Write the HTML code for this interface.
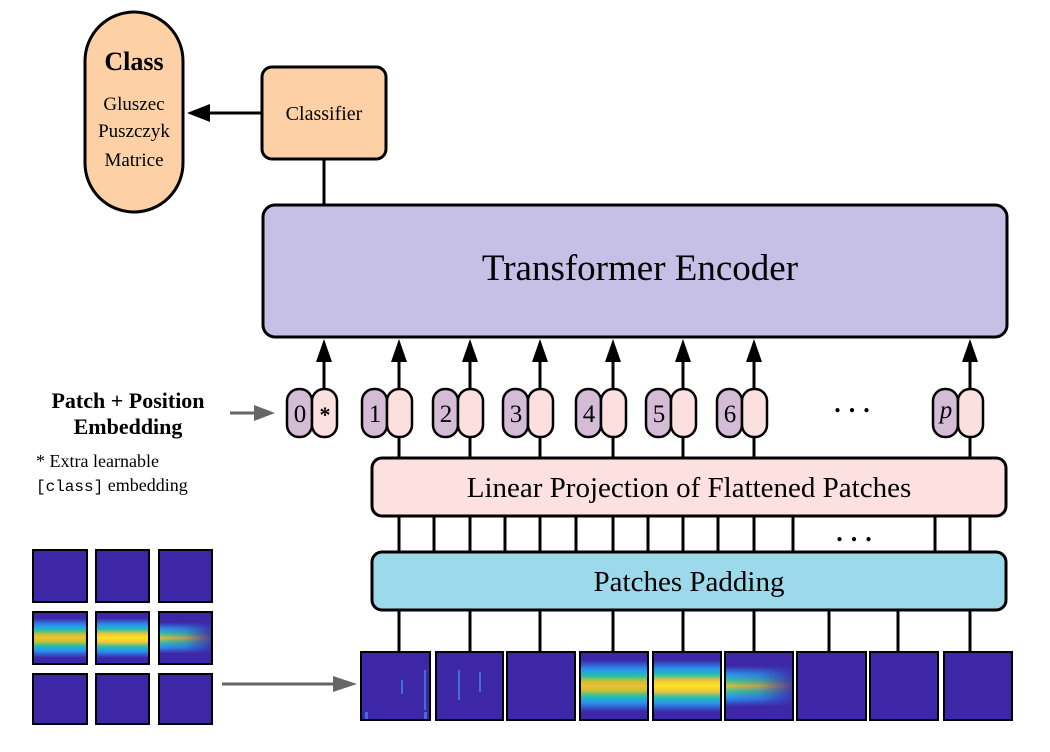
<!DOCTYPE html>
<html><head><meta charset="utf-8"><style>
html,body{margin:0;padding:0;background:#fff;}
svg{display:block;font-family:"Liberation Serif",serif;}
</style></head><body>
<svg width="1050" height="752" viewBox="0 0 1050 752" xmlns="http://www.w3.org/2000/svg">
<defs>
  <linearGradient id="band" x1="0" y1="0" x2="0" y2="1">
    <stop offset="0" stop-color="#3d27a6"/>
    <stop offset="0.12" stop-color="#3d27a6"/>
    <stop offset="0.25" stop-color="#2b8ef0"/>
    <stop offset="0.35" stop-color="#22c0b0"/>
    <stop offset="0.43" stop-color="#c9c12e"/>
    <stop offset="0.5" stop-color="#eec03a"/>
    <stop offset="0.57" stop-color="#c9c12e"/>
    <stop offset="0.65" stop-color="#22c0b0"/>
    <stop offset="0.75" stop-color="#2b8ef0"/>
    <stop offset="0.88" stop-color="#3d27a6"/>
    <stop offset="1" stop-color="#3d27a6"/>
  </linearGradient>
  <linearGradient id="hotb" x1="0" y1="0" x2="0" y2="1">
    <stop offset="0" stop-color="#3d27a6"/>
    <stop offset="0.12" stop-color="#3d27a6"/>
    <stop offset="0.24" stop-color="#2b8ef0"/>
    <stop offset="0.33" stop-color="#22c0b0"/>
    <stop offset="0.42" stop-color="#f2c43a"/>
    <stop offset="0.5" stop-color="#fbe41f"/>
    <stop offset="0.58" stop-color="#f2c43a"/>
    <stop offset="0.67" stop-color="#22c0b0"/>
    <stop offset="0.76" stop-color="#2b8ef0"/>
    <stop offset="0.88" stop-color="#3d27a6"/>
    <stop offset="1" stop-color="#3d27a6"/>
  </linearGradient>
  <linearGradient id="fadeb" x1="0" y1="0" x2="0" y2="1">
    <stop offset="0" stop-color="#3d27a6"/>
    <stop offset="0.2" stop-color="#3d27a6"/>
    <stop offset="0.32" stop-color="#2b8ef0"/>
    <stop offset="0.42" stop-color="#3cc0a0"/>
    <stop offset="0.5" stop-color="#d8bf38"/>
    <stop offset="0.58" stop-color="#3cc0a0"/>
    <stop offset="0.68" stop-color="#2b8ef0"/>
    <stop offset="0.8" stop-color="#3d27a6"/>
    <stop offset="1" stop-color="#3d27a6"/>
  </linearGradient>
  <linearGradient id="fadeh" x1="0" y1="0" x2="1" y2="0">
    <stop offset="0" stop-color="#3d27a6" stop-opacity="0"/>
    <stop offset="0.5" stop-color="#3d27a6" stop-opacity="0.2"/>
    <stop offset="1" stop-color="#3d27a6" stop-opacity="0.85"/>
  </linearGradient>
</defs>

<rect x="85" y="12" width="98" height="200" rx="49" fill="#fdd1a5" stroke="#000" stroke-width="3"/>
<text x="134" y="70" font-size="26" font-weight="bold" text-anchor="middle">Class</text>
<text x="134" y="110" font-size="19" text-anchor="middle">Gluszec</text>
<text x="134" y="137" font-size="19" text-anchor="middle">Puszczyk</text>
<text x="134" y="166" font-size="19" text-anchor="middle">Matrice</text>

<rect x="262" y="67" width="124" height="92" rx="10" fill="#fdd1a5" stroke="#000" stroke-width="3"/>
<text x="324" y="120" font-size="20" text-anchor="middle">Classifier</text>
<line x1="262" y1="113" x2="205" y2="113" stroke="#000" stroke-width="3"/>
<polygon points="187,113 210,104 210,122" fill="#000"/>
<line x1="324" y1="159" x2="324" y2="205" stroke="#000" stroke-width="3"/>

<rect x="263" y="205" width="744" height="132" rx="12" fill="#c6bfe6" stroke="#000" stroke-width="3"/>
<text x="640" y="280" font-size="37" text-anchor="middle">Transformer Encoder</text>

<g stroke="#000" stroke-width="3">
  <line x1="324" y1="390" x2="324" y2="355"/>
  <line x1="399" y1="390" x2="399" y2="355"/>
  <line x1="470" y1="390" x2="470" y2="355"/>
  <line x1="540" y1="390" x2="540" y2="355"/>
  <line x1="613" y1="390" x2="613" y2="355"/>
  <line x1="683" y1="390" x2="683" y2="355"/>
  <line x1="754" y1="390" x2="754" y2="355"/>
  <line x1="970" y1="390" x2="970" y2="355"/>
</g>
<g fill="#000">
  <polygon points="324,339 316,362 332,362"/>
  <polygon points="399,339 391,362 407,362"/>
  <polygon points="470,339 462,362 478,362"/>
  <polygon points="540,339 532,362 548,362"/>
  <polygon points="613,339 605,362 621,362"/>
  <polygon points="683,339 675,362 691,362"/>
  <polygon points="754,339 746,362 762,362"/>
  <polygon points="970,339 962,362 978,362"/>
</g>

<g stroke="#000" stroke-width="2.5">
  <g><rect x="287" y="389" width="25" height="48" rx="12" fill="#d4bcd6"/><rect x="312" y="389" width="25" height="48" rx="12" fill="#fce0e0"/></g>
  <g><rect x="362" y="389" width="25" height="48" rx="12" fill="#d4bcd6"/><rect x="387" y="389" width="25" height="48" rx="12" fill="#fce0e0"/></g>
  <g><rect x="433" y="389" width="25" height="48" rx="12" fill="#d4bcd6"/><rect x="458" y="389" width="25" height="48" rx="12" fill="#fce0e0"/></g>
  <g><rect x="503" y="389" width="25" height="48" rx="12" fill="#d4bcd6"/><rect x="528" y="389" width="25" height="48" rx="12" fill="#fce0e0"/></g>
  <g><rect x="576" y="389" width="25" height="48" rx="12" fill="#d4bcd6"/><rect x="601" y="389" width="25" height="48" rx="12" fill="#fce0e0"/></g>
  <g><rect x="646" y="389" width="25" height="48" rx="12" fill="#d4bcd6"/><rect x="671" y="389" width="25" height="48" rx="12" fill="#fce0e0"/></g>
  <g><rect x="717" y="389" width="25" height="48" rx="12" fill="#d4bcd6"/><rect x="742" y="389" width="25" height="48" rx="12" fill="#fce0e0"/></g>
  <g><rect x="933" y="389" width="25" height="48" rx="12" fill="#d4bcd6"/><rect x="958" y="389" width="25" height="48" rx="12" fill="#fce0e0"/></g>
</g>
<g font-size="25" text-anchor="middle">
  <text x="300" y="422">0</text><text x="325" y="422" font-size="22" font-weight="bold">*</text>
  <text x="375" y="422">1</text>
  <text x="446" y="422">2</text>
  <text x="516" y="422">3</text>
  <text x="589" y="422">4</text>
  <text x="659" y="422">5</text>
  <text x="730" y="422">6</text>
  <text x="946" y="418" font-style="italic">p</text>
</g>
<text x="856" y="412" font-size="26" text-anchor="middle" font-weight="bold" letter-spacing="8">...</text>

<g stroke="#000" stroke-width="3">
  <line x1="399" y1="437" x2="399" y2="458"/>
  <line x1="470" y1="437" x2="470" y2="458"/>
  <line x1="540" y1="437" x2="540" y2="458"/>
  <line x1="613" y1="437" x2="613" y2="458"/>
  <line x1="683" y1="437" x2="683" y2="458"/>
  <line x1="754" y1="437" x2="754" y2="458"/>
  <line x1="970" y1="437" x2="970" y2="458"/>
</g>

<rect x="372" y="458" width="634" height="58" rx="10" fill="#fde0e0" stroke="#000" stroke-width="3"/>
<text x="689" y="497" font-size="29" text-anchor="middle">Linear Projection of Flattened Patches</text>

<g stroke="#000" stroke-width="3">
  <line x1="399" y1="516" x2="399" y2="552"/>
  <line x1="434" y1="516" x2="434" y2="552"/>
  <line x1="470" y1="516" x2="470" y2="552"/>
  <line x1="505" y1="516" x2="505" y2="552"/>
  <line x1="540" y1="516" x2="540" y2="552"/>
  <line x1="576" y1="516" x2="576" y2="552"/>
  <line x1="613" y1="516" x2="613" y2="552"/>
  <line x1="648" y1="516" x2="648" y2="552"/>
  <line x1="683" y1="516" x2="683" y2="552"/>
  <line x1="718" y1="516" x2="718" y2="552"/>
  <line x1="754" y1="516" x2="754" y2="552"/>
  <line x1="793" y1="516" x2="793" y2="552"/>
  <line x1="935" y1="516" x2="935" y2="552"/>
  <line x1="970" y1="516" x2="970" y2="552"/>
</g>
<text x="858" y="541" font-size="26" text-anchor="middle" font-weight="bold" letter-spacing="8">...</text>

<rect x="372" y="552" width="634" height="58" rx="10" fill="#9cd9ea" stroke="#000" stroke-width="3"/>
<text x="689" y="591" font-size="29" text-anchor="middle">Patches Padding</text>

<g stroke="#000" stroke-width="3">
  <line x1="399" y1="610" x2="399" y2="652"/>
  <line x1="470" y1="610" x2="470" y2="652"/>
  <line x1="540" y1="610" x2="540" y2="652"/>
  <line x1="613" y1="610" x2="613" y2="652"/>
  <line x1="683" y1="610" x2="683" y2="652"/>
  <line x1="754" y1="610" x2="754" y2="652"/>
  <line x1="829" y1="610" x2="829" y2="652"/>
  <line x1="898" y1="610" x2="898" y2="652"/>
  <line x1="970" y1="610" x2="970" y2="652"/>
</g>

<g stroke="#000" stroke-width="2">
  <rect x="361" y="652" width="69" height="68" fill="#3d27a6"/>
  <rect x="436" y="652" width="67" height="68" fill="#3d27a6"/>
  <rect x="507" y="652" width="68" height="68" fill="#3d27a6"/>
  <rect x="580" y="652" width="68" height="68" fill="url(#band)"/>
  <rect x="653" y="652" width="68" height="68" fill="url(#hotb)"/>
  <rect x="725" y="652" width="68" height="68" fill="url(#fadeb)"/>
  <rect x="797" y="652" width="69" height="68" fill="#3d27a6"/>
  <rect x="870" y="652" width="68" height="68" fill="#3d27a6"/>
  <rect x="944" y="652" width="68" height="68" fill="#3d27a6"/>
</g>
<rect x="726" y="653" width="66" height="66" fill="url(#fadeh)"/>
<g fill="#3d8cf0" opacity="0.7">
  <rect x="401" y="680" width="2" height="14"/><rect x="424" y="670" width="2" height="40"/>
  <rect x="458" y="670" width="2" height="30"/><rect x="479" y="672" width="2" height="20"/>
  <rect x="365" y="712" width="3" height="7"/><rect x="424" y="712" width="3" height="7"/>
</g>

<g stroke="#000" stroke-width="2">
  <rect x="33" y="550" width="54" height="52" fill="#3d27a6"/>
  <rect x="96" y="550" width="53" height="52" fill="#3d27a6"/>
  <rect x="159" y="550" width="53" height="52" fill="#3d27a6"/>
  <rect x="33" y="612" width="54" height="52" fill="url(#band)"/>
  <rect x="96" y="612" width="53" height="52" fill="url(#hotb)"/>
  <rect x="159" y="612" width="53" height="52" fill="url(#fadeb)"/>
  <rect x="33" y="674" width="54" height="50" fill="#3d27a6"/>
  <rect x="96" y="674" width="53" height="50" fill="#3d27a6"/>
  <rect x="159" y="674" width="53" height="50" fill="#3d27a6"/>
</g>
<rect x="160" y="613" width="51" height="50" fill="url(#fadeh)"/>

<line x1="222" y1="684" x2="340" y2="684" stroke="#666" stroke-width="3"/>
<polygon points="357,684 333,676 333,692" fill="#666"/>
<line x1="230" y1="413" x2="258" y2="413" stroke="#666" stroke-width="3"/>
<polygon points="275,413 254,405 254,421" fill="#666"/>

<text x="128" y="408" font-size="22" font-weight="bold" text-anchor="middle">Patch + Position</text>
<text x="128" y="434" font-size="22" font-weight="bold" text-anchor="middle">Embedding</text>
<text x="36" y="467" font-size="18">* Extra learnable</text>
<text x="36" y="491" font-size="18"><tspan font-family="Liberation Mono, monospace" font-size="16">[class]</tspan> embedding</text>
</svg>
</body></html>
